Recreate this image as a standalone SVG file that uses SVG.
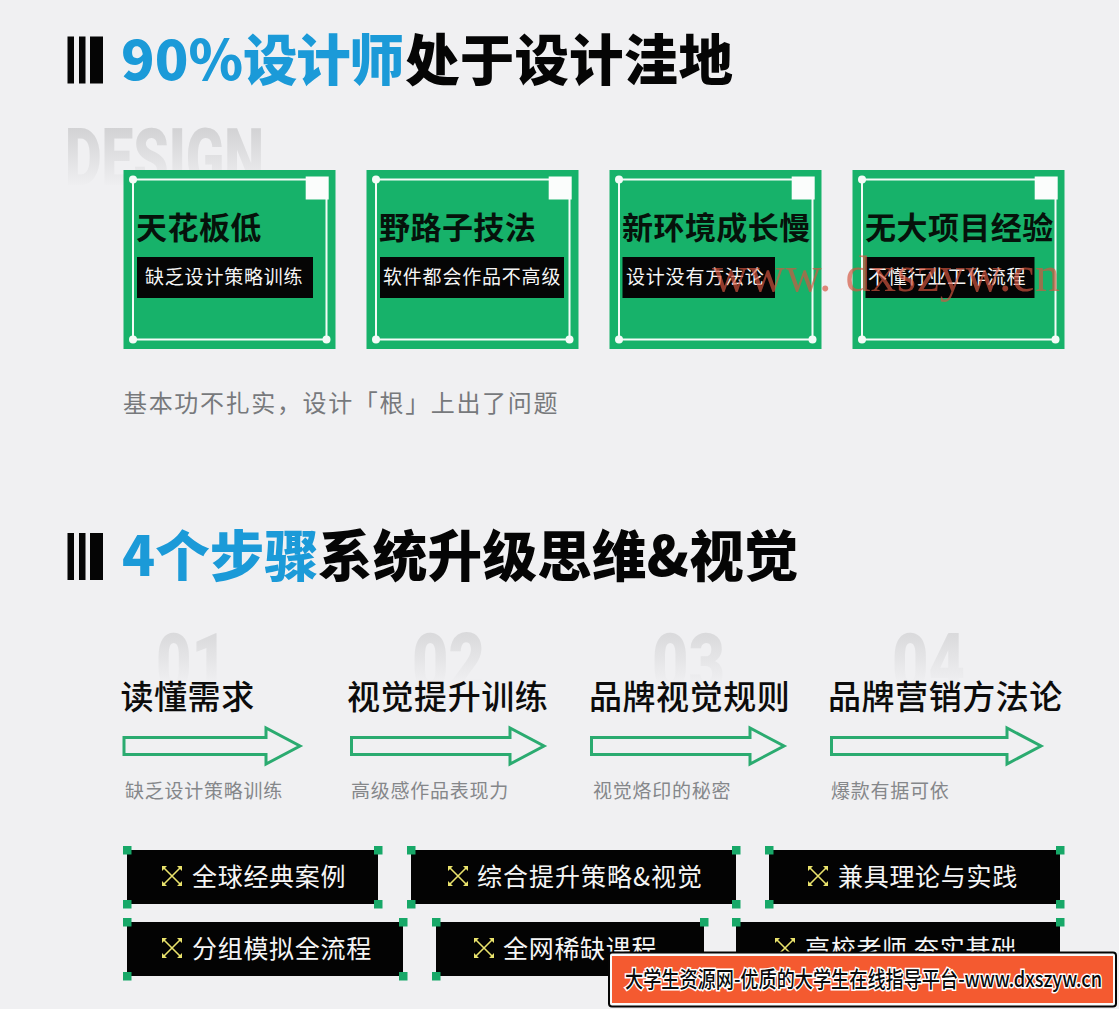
<svg xmlns="http://www.w3.org/2000/svg" width="1119" height="1009" viewBox="0 0 1119 1009">
<style>
text{font-family:"Noto Sans CJK SC","Noto Sans",sans-serif}
.h{font-size:54.5px;font-weight:900}
.blue{fill:#1b9ad8}
.blk{fill:#050505}
.card{fill:#17b26a}
.inner{fill:none;stroke:#f4fbf7;stroke-width:2}
.dot{fill:#f4fbf7}
.sq{fill:#fbfdfc}
.ct{font-size:31px;letter-spacing:.45px;font-weight:700;fill:#06120b}
.cb{fill:#050505}
.cs{font-size:19px;letter-spacing:.8px;fill:#f5f5f5;font-weight:400}
.st{font-size:33px;letter-spacing:.55px;font-weight:500;fill:#0c0c0c}
.sub{font-size:19px;letter-spacing:.75px;fill:#85878a;font-weight:400}
.arrow{fill:none;stroke:#2bab70;stroke-width:3}
.ghost{font-family:Roboto,sans-serif;font-weight:900;font-size:80px}
.tag{fill:#030303}
.hd{fill:#17a868}
.tt{font-size:25px;letter-spacing:.7px;fill:#f5f5f5;font-weight:400}
.ic{fill:none;stroke:#e9e26c;stroke-width:1.600}
.ia{fill:#e9e26c}
</style>
<defs>
<linearGradient id="g1" gradientUnits="userSpaceOnUse" x1="0" y1="127" x2="0" y2="188"><stop offset="0" stop-color="#d2d2d4"/><stop offset="1" stop-color="#f0f0f2"/></linearGradient>
<linearGradient id="g2" gradientUnits="userSpaceOnUse" x1="0" y1="632" x2="0" y2="684"><stop offset="0" stop-color="#d9d9db"/><stop offset="1" stop-color="#f0f0f2"/></linearGradient>
<g id="x"><path class="ic" d="M1 1L19 19M19 1L1 19"/><path class="ia" d="M0 0H5L0 5ZM20 0V5L15 0ZM0 20V15L5 20ZM20 20H15L20 15Z"/></g>
<g id="bars"><rect x="67.500" width="6.500" height="47"/><rect x="79" width="6.500" height="47"/><rect x="90" width="13" height="47"/></g>
</defs>
<rect width="1119" height="1009" fill="#f0f0f2"/>

<g id="title1"><use href="#bars" y="36.500" fill="#050505"/>
<text class="h blue" x="121" y="80" textLength="122" lengthAdjust="spacingAndGlyphs">90%</text>
<text class="h blue" x="243" y="80" textLength="161">设计师</text>
<text class="h blk" x="405" y="80" letter-spacing=".2">处于设计洼地</text></g>
<text id="ghost-design" class="ghost" x="65" y="185" fill="url(#g1)" textLength="199" lengthAdjust="spacingAndGlyphs">DESIGN</text>

<g id="card1"><rect class="card" x="123.500" y="170" width="212" height="179"/><path class="inner" d="M133 179.500H326.500V339.500H133Z"/><circle class="dot" cx="133" cy="179.500" r="4"/><circle class="dot" cx="133" cy="339.500" r="4"/><circle class="dot" cx="326.500" cy="339.500" r="4"/><rect class="sq" x="305.700" y="176.500" width="23" height="23"/>
<text class="ct" x="136" y="239">天花板低</text><rect class="cb" x="137" y="257" width="176" height="41"/><text class="cs" x="145" y="284">缺乏设计策略训练</text></g>
<g id="card2"><rect class="card" x="366.500" y="170" width="212" height="179"/><path class="inner" d="M376 179.500H569.500V339.500H376Z"/><circle class="dot" cx="376" cy="179.500" r="4"/><circle class="dot" cx="376" cy="339.500" r="4"/><circle class="dot" cx="569.500" cy="339.500" r="4"/><rect class="sq" x="548.700" y="176.500" width="23" height="23"/>
<text class="ct" x="379" y="239">野路子技法</text><rect class="cb" x="380" y="257" width="184" height="41"/><text class="cs" x="383" y="284">软件都会作品不高级</text></g>
<g id="card3"><rect class="card" x="609.500" y="170" width="212" height="179"/><path class="inner" d="M619 179.500H812.500V339.500H619Z"/><circle class="dot" cx="619" cy="179.500" r="4"/><circle class="dot" cx="619" cy="339.500" r="4"/><circle class="dot" cx="812.500" cy="339.500" r="4"/><rect class="sq" x="791.700" y="176.500" width="23" height="23"/>
<text class="ct" x="622" y="239">新环境成长慢</text><rect class="cb" x="622.500" y="257" width="152.500" height="41"/><text class="cs" x="626" y="284">设计没有方法论</text></g>
<g id="card4"><rect class="card" x="852.500" y="170" width="212" height="179"/><path class="inner" d="M862 179.500H1055.500V339.500H862Z"/><circle class="dot" cx="862" cy="179.500" r="4"/><circle class="dot" cx="862" cy="339.500" r="4"/><circle class="dot" cx="1055.500" cy="339.500" r="4"/><rect class="sq" x="1034.700" y="176.500" width="23" height="23"/>
<text class="ct" x="865" y="239">无大项目经验</text><rect class="cb" x="865.500" y="257" width="169" height="41"/><text class="cs" x="868" y="284">不懂行业工作流程</text></g>
<text id="watermark" x="712" y="291" font-size="50" style="font-family:'Liberation Serif',serif" fill="#d4553f" fill-opacity=".68" textLength="348">www. dxszyw.cn</text>
<text id="caption" x="123" y="412" font-size="24" letter-spacing="1.650" fill="#77797c" font-weight="400">基本功不扎实，设计「根」上出了问题</text>

<g id="title2"><use href="#bars" y="533" fill="#050505"/>
<text class="h blue" x="122" y="576">4个步骤</text>
<text class="h blk" x="318" y="576" letter-spacing=".3">系统升级思维&amp;视觉</text></g>

<g id="step1"><text class="ghost" x="156" y="690" fill="url(#g2)" textLength="71" lengthAdjust="spacingAndGlyphs">01</text><text class="st" x="120.500" y="709">读懂需求</text><text class="sub" x="125" y="798">缺乏设计策略训练</text></g>
<g id="step2"><text class="ghost" x="412" y="690" fill="url(#g2)" textLength="73" lengthAdjust="spacingAndGlyphs">02</text><text class="st" x="347" y="709">视觉提升训练</text><text class="sub" x="351" y="798">高级感作品表现力</text></g>
<g id="step3"><text class="ghost" x="652" y="690" fill="url(#g2)" textLength="73" lengthAdjust="spacingAndGlyphs">03</text><text class="st" x="589" y="709">品牌视觉规则</text><text class="sub" x="593" y="798">视觉烙印的秘密</text></g>
<g id="step4"><text class="ghost" x="892" y="690" fill="url(#g2)" textLength="73" lengthAdjust="spacingAndGlyphs">04</text><text class="st" x="828" y="709">品牌营销方法论</text><text class="sub" x="831" y="798">爆款有据可依</text></g>

<g id="connectors">
<path class="arrow" d="M124 737.500H266V728L300 746L266 764V754.500H124Z"/>
<path class="arrow" d="M351.500 737.500H510V728L544 746L510 764V754.500H351.500Z"/>
<path class="arrow" d="M591.500 737.500H750V728L784 746L750 764V754.500H591.500Z"/>
<path class="arrow" d="M831.500 737.500H1007V728L1041 746L1007 764V754.500H831.500Z"/>
</g>

<g id="tag1"><rect class="tag" x="127" y="850" width="251" height="54"/><path class="hd" d="M123 846h8.500v8.500h-8.500zM374 846h8.500v8.500h-8.500zM123 900h8.500v8.500h-8.500zM374 900h8.500v8.500h-8.500z"/><use href="#x" x="162" y="866"/><text class="tt" x="192" y="886">全球经典案例</text></g>
<g id="tag2"><rect class="tag" x="411" y="850" width="325" height="54"/><path class="hd" d="M407 846h8.500v8.500h-8.500zM732 846h8.500v8.500h-8.500zM407 900h8.500v8.500h-8.500zM732 900h8.500v8.500h-8.500z"/><use href="#x" x="448" y="866"/><text class="tt" x="477" y="886" style="letter-spacing:1px">综合提升策略&amp;视觉</text></g>
<g id="tag3"><rect class="tag" x="769" y="850" width="291" height="54"/><path class="hd" d="M765 846h8.500v8.500h-8.500zM1056 846h8.500v8.500h-8.500zM765 900h8.500v8.500h-8.500zM1056 900h8.500v8.500h-8.500z"/><use href="#x" x="808" y="866"/><text class="tt" x="838" y="886">兼具理论与实践</text></g>
<g id="tag4"><rect class="tag" x="127" y="922" width="276" height="54"/><path class="hd" d="M123 918h8.500v8.500h-8.500zM399 918h8.500v8.500h-8.500zM123 972h8.500v8.500h-8.500zM399 972h8.500v8.500h-8.500z"/><use href="#x" x="162" y="938"/><text class="tt" x="192" y="958">分组模拟全流程</text></g>
<g id="tag5"><rect class="tag" x="436" y="922" width="268" height="54"/><path class="hd" d="M432 918h8.500v8.500h-8.500zM700 918h8.500v8.500h-8.500zM432 972h8.500v8.500h-8.500z"/><use href="#x" x="474" y="938"/><text class="tt" x="503" y="958">全网稀缺课程</text></g>
<g id="tag6"><rect class="tag" x="736" y="922" width="324" height="54"/><path class="hd" d="M732 918h8.500v8.500h-8.500zM1056 918h8.500v8.500h-8.500z"/><use href="#x" x="775" y="938"/><text class="tt" x="805" y="958">高校老师 夯实基础</text></g>

<g id="banner"><rect x="609" y="952.500" width="507" height="54" rx="3" fill="#fafafa" stroke="#050505" stroke-width="2"/><rect x="612" y="956" width="501" height="47" fill="#f45a30"/>
<text x="625" y="987" font-size="22" font-weight="500" fill="#0a0a0a" stroke="#fff" stroke-width="3" paint-order="stroke" textLength="477" lengthAdjust="spacingAndGlyphs">大学生资源网-优质的大学生在线指导平台-www.dxszyw.cn</text></g>
</svg>
